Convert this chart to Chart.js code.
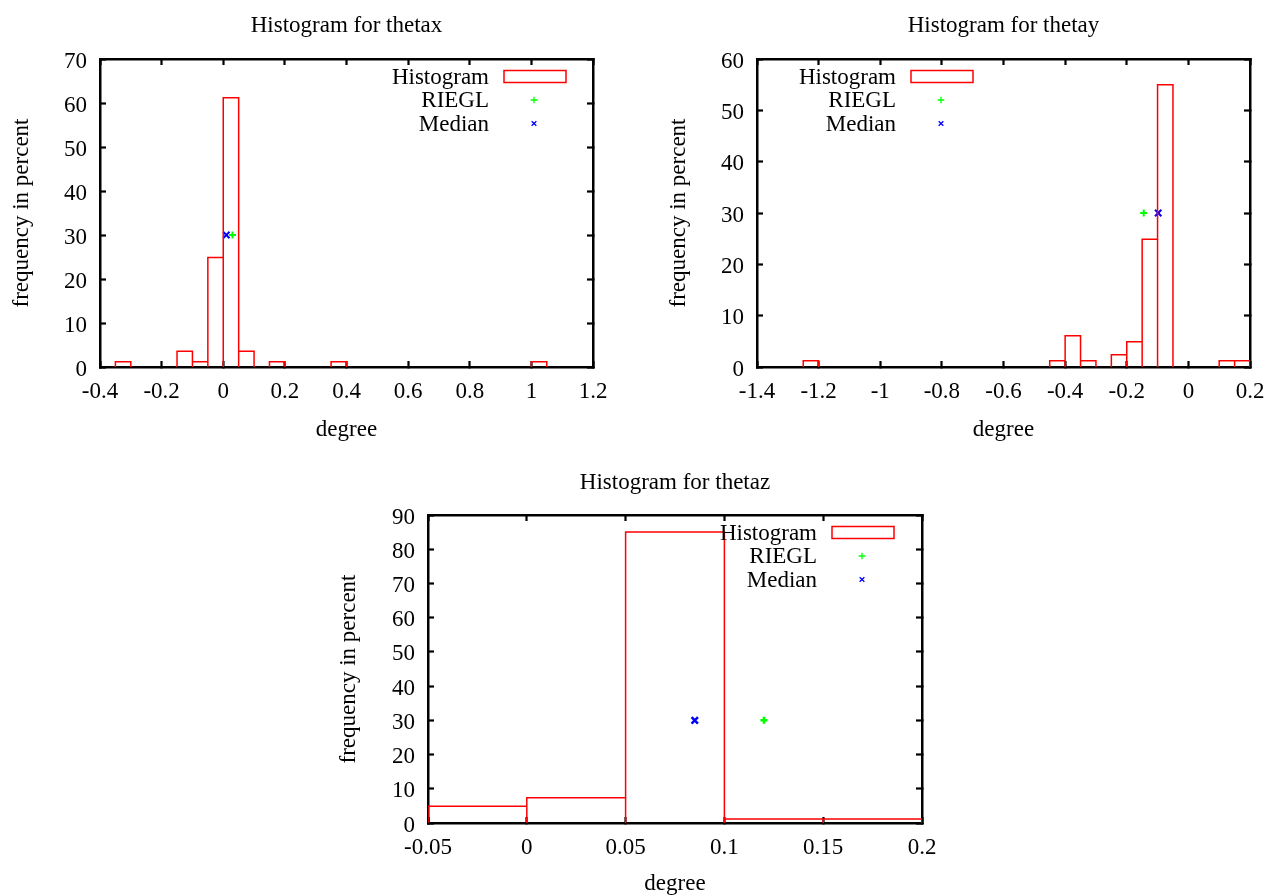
<!DOCTYPE html>
<html>
<head>
<meta charset="utf-8">
<title>Histograms for thetax, thetay, thetaz</title>
<script src="https://cdn.jsdelivr.net/npm/chart.js"></script>
<style>
  body { margin:0; background:#fff; overflow:hidden; }
  .panel { position:absolute; }
</style>
</head>
<body>
<div class="panel" style="left:0;top:0"><canvas id="chartX" width="640" height="448"></canvas></div>
<div class="panel" style="left:640px;top:0"><canvas id="chartY" width="660" height="448"></canvas></div>
<div class="panel" style="left:320px;top:448px"><canvas id="chartZ" width="640" height="448"></canvas></div>
<script>
// --- values: bin lower edges (width 0.05) and percent per bin ---
const binWidth = 0.05;

const thetaxBins = [-0.35, -0.15, -0.10, -0.05, 0.00, 0.05, 0.15, 0.35, 1.00];
const thetaxFreq = [1.2, 3.6, 1.2, 24.9, 61.2, 3.6, 1.2, 1.2, 1.2];
const thetaxRiegl = 0.03;
const thetaxMedian = 0.01;

const thetayBins = [-1.25, -0.45, -0.40, -0.35, -0.25, -0.20, -0.15, -0.10, 0.10, 0.15];
const thetayFreq = [1.2, 1.2, 6.1, 1.2, 2.4, 4.9, 24.9, 55.0, 1.2, 1.2];
const thetayRiegl = -0.145;
const thetayMedian = -0.098;

const thetazBins = [-0.05, 0.00, 0.05, 0.10, 0.15];
const thetazFreq = [4.9, 7.4, 85.0, 1.2, 1.2];
const thetazRiegl = 0.12;
const thetazMedian = 0.085;

const markerLevel = 30;   // both reference points are plotted at 30 %

const serif = '"Liberation Serif", "Times New Roman", serif';
const fontMain = {family: serif, size: 23, weight: 'normal'};
Chart.defaults.font.family = serif;
Chart.defaults.color = '#000';

// gnuplot "with boxes": every bin is its own closed outline
function boxOutline(starts, freq) {
  const pts = [];
  starts.forEach((lo, i) => {
    const hi = lo + binWidth;
    pts.push({x:lo, y:0}, {x:lo, y:freq[i]}, {x:hi, y:freq[i]}, {x:hi, y:0}, {x:hi, y:null});
  });
  return pts;
}

function fmt(v) { return String(Math.round(v * 100) / 100); }

// key drawn gnuplot style: text right-aligned, sample to its right
const gnuKey = {
  id: 'gnuKey',
  afterDatasetsDraw(chart, args, opts) {
    const {ctx, chartArea} = chart;
    const xr = chartArea.left + opts.textRight;
    ctx.save();
    ctx.font = '23px ' + serif;
    ctx.textAlign = 'right';
    ctx.textBaseline = 'middle';
    chart.data.datasets.forEach((ds, i) => {
      const y = chartArea.top + opts.firstRow + i * opts.rowGap;
      ctx.fillStyle = '#000';
      ctx.fillText(ds.label, xr, y + 1);
      ctx.strokeStyle = ds.borderColor;
      ctx.fillStyle = ds.borderColor;
      if (i === 0) {
        ctx.lineWidth = 1.5;
        ctx.strokeRect(xr + 15, y - 6, 62, 12);
      } else {
        ctx.lineWidth = 1.3;
        Chart.helpers.drawPoint(ctx, {pointStyle: ds.pointStyle, radius: 3.3, borderWidth: 1.3}, xr + 45, y);
      }
    });
    ctx.restore();
  }
};

function frame(extra) {
  return Object.assign({
    type: 'linear',
    border: {display: true, color: '#000', width: 2.5},
    grid: {display: true, drawOnChartArea: false, drawTicks: true, tickLength: -6, tickWidth: 2.2, tickColor: '#000'}
  }, extra);
}

function makeHist(id, c) {
  const ctx = document.getElementById(id).getContext('2d');
  return new Chart(ctx, {
    type: 'scatter',
    data: {
      datasets: [
        {label: 'Histogram', data: boxOutline(c.bins, c.freq), showLine: true, borderColor: '#ff0000',
         borderWidth: 1.5, pointRadius: 0, tension: 0, fill: false},
        {label: 'RIEGL', data: [{x: c.riegl, y: markerLevel}], pointStyle: 'cross', pointRadius: 3.5,
         pointBorderWidth: c.markW, borderColor: '#00ff00', backgroundColor: '#00ff00'},
        {label: 'Median', data: [{x: c.median, y: markerLevel}], pointStyle: 'crossRot', pointRadius: 4.5,
         pointBorderWidth: c.markW, borderColor: '#0000ff', backgroundColor: '#0000ff'}
      ]
    },
    options: {
      responsive: false,
      animation: false,
      events: [],
      layout: {padding: {left: 0, right: c.padRight, top: 0, bottom: 0}},
      plugins: {
        legend: {display: false},
        tooltip: {enabled: false},
        title: {display: true, text: c.title, font: fontMain, color: '#000', fullSize: false,
                padding: {top: c.titleTop, bottom: c.titleBottom}},
        gnuKey: {textRight: c.keyX, firstRow: 17.5, rowGap: 23.5}
      },
      scales: {
        x: frame({position: 'bottom', min: c.xMin, max: c.xMax,
          ticks: {stepSize: c.xStep, padding: 17.5, font: fontMain, color: '#000', maxRotation: 0, callback: fmt},
          title: {display: true, text: 'degree', font: fontMain, color: '#000', padding: {top: 0, bottom: c.xTitlePad}},
          afterFit: s => { s.height = c.xHeight; }}),
        y: frame({position: 'left', min: 0, max: c.yMax,
          ticks: {stepSize: 10, padding: 19, labelOffset: 2.5, font: fontMain, color: '#000', callback: fmt},
          title: {display: true, text: 'frequency in percent', font: fontMain, color: '#000', padding: {top: c.yTitlePad, bottom: 0}},
          afterFit: s => { s.width = c.yWidth; }}),
        x2: frame({position: 'top', axis: 'x', min: c.xMin, max: c.xMax,
          ticks: {display: false, stepSize: c.xStep},
          afterFit: s => { s.height = 0; }}),
        y2: frame({position: 'right', axis: 'y', min: 0, max: c.yMax,
          ticks: {display: false, stepSize: 10},
          afterFit: s => { s.width = 0; }})
      }
    },
    plugins: [gnuKey]
  });
}

makeHist('chartX', {
  title: 'Histogram for thetax', bins: thetaxBins, freq: thetaxFreq, riegl: thetaxRiegl, median: thetaxMedian,
  xMin: -0.4, xMax: 1.2, xStep: 0.2, yMax: 70, markW: 2,
  yWidth: 100, xHeight: 81, padRight: 47, titleTop: 12.5, titleBottom: 18.9, yTitlePad: 8, xTitlePad: 4.5, keyX: 389
});

makeHist('chartY', {
  title: 'Histogram for thetay', bins: thetayBins, freq: thetayFreq, riegl: thetayRiegl, median: thetayMedian,
  xMin: -1.4, xMax: 0.2, xStep: 0.2, yMax: 60, markW: 2,
  yWidth: 117, xHeight: 81, padRight: 50, titleTop: 12.5, titleBottom: 18.9, yTitlePad: 25, xTitlePad: 4.5, keyX: 139
});

makeHist('chartZ', {
  title: 'Histogram for thetaz', bins: thetazBins, freq: thetazFreq, riegl: thetazRiegl, median: thetazMedian,
  xMin: -0.05, xMax: 0.2, xStep: 0.05, yMax: 90, markW: 2.5,
  yWidth: 108, xHeight: 73, padRight: 38, titleTop: 21, titleBottom: 18.4, yTitlePad: 15, xTitlePad: -2, keyX: 389
});
</script>
</body>
</html>
